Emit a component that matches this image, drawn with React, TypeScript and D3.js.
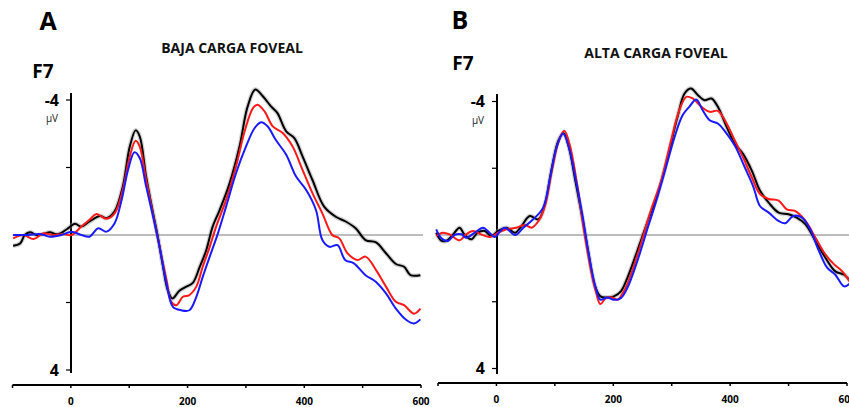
import React from "react";
import * as d3 from "d3";

type P = [number, number];

// time (ms) , amplitude (µV, negative up)
const leftBlack: P[] = [[-99,0.32],[-87,0.25],[-79,0],[-70,-0.08],[-59,0],[-47,-0.03],[-36,-0.08],[-22,-0.02],[-7,-0.17],[7,-0.33],[18,-0.25],[32,-0.4],[50,-0.56],[61,-0.5],[75,-0.7],[89,-1.44],[101,-2.62],[111,-3.1],[118,-2.92],[129,-1.73],[141,-0.64],[149,0.05],[158,0.94],[166,1.63],[174,1.88],[186,1.65],[198,1.53],[209,1.42],[221,0.94],[232,0.45],[243,-0.25],[255,-0.74],[272,-1.53],[289,-2.62],[303,-3.81],[316,-4.31],[329,-4.11],[343,-3.81],[354,-3.61],[369,-3.07],[383,-2.87],[397,-2.33],[414,-1.63],[434,-0.84],[454,-0.54],[471,-0.4],[488,-0.2],[505,0.15],[523,0.22],[540,0.54],[557,0.86],[571,0.94],[582,1.19],[599,1.19]];
const leftRed: P[] = [[-99,0.1],[-81,0],[-64,0.12],[-47,-0.05],[-30,0],[-13,-0.03],[1,0],[18,-0.25],[32,-0.45],[44,-0.62],[61,-0.48],[75,-0.64],[89,-1.34],[101,-2.33],[111,-2.79],[118,-2.62],[129,-1.63],[141,-0.59],[152,0.35],[164,1.34],[172,1.98],[181,2.08],[192,1.83],[203,1.78],[215,1.53],[226,0.94],[238,0.35],[249,-0.25],[266,-1.04],[283,-2.03],[297,-3.02],[312,-3.76],[320,-3.86],[332,-3.66],[346,-3.22],[363,-3.02],[380,-2.62],[397,-1.93],[414,-1.24],[431,-0.64],[448,0],[460,0.1],[474,0.54],[491,0.74],[505,0.64],[523,1.04],[540,1.53],[557,1.98],[571,2.08],[588,2.33],[599,2.18]];
const leftBlue: P[] = [[-99,0],[-76,0],[-53,-0.03],[-36,0.05],[-16,0],[1,-0.1],[18,0],[32,0.05],[47,-0.2],[61,-0.1],[75,-0.35],[87,-1.04],[98,-1.93],[109,-2.45],[118,-2.28],[129,-1.44],[141,-0.54],[152,0.35],[164,1.44],[175,2.13],[189,2.23],[203,2.23],[215,1.83],[226,1.24],[238,0.64],[252,-0.05],[266,-0.84],[283,-1.83],[300,-2.62],[315,-3.17],[326,-3.34],[337,-3.22],[351,-2.82],[369,-2.38],[386,-1.73],[403,-1.34],[420,-0.74],[431,0.15],[443,0.35],[457,0.3],[470,0.74],[485,0.84],[505,1.19],[523,1.39],[540,1.73],[557,2.18],[575,2.52],[588,2.62],[599,2.5]];

const rightBlack: P[] = [[-103,-0.07],[-95,0.16],[-86,0.18],[-75,0],[-63,-0.22],[-55,-0.02],[-43,0.13],[-32,-0.07],[-20,-0.12],[-9,0.03],[3,-0.12],[17,-0.22],[32,-0.07],[43,-0.27],[57,-0.57],[72,-0.47],[83,-0.92],[95,-2.03],[106,-2.83],[115,-3.05],[124,-2.63],[135,-1.63],[147,-0.52],[158,0.58],[168,1.49],[178,1.84],[190,1.87],[201,1.84],[213,1.69],[224,1.29],[241,0.48],[259,-0.42],[276,-1.23],[293,-2.33],[310,-3.54],[322,-4.24],[333,-4.39],[345,-4.19],[356,-4.04],[368,-4.09],[379,-3.84],[394,-3.24],[408,-2.73],[422,-2.43],[437,-1.93],[451,-1.33],[466,-0.97],[483,-0.67],[500,-0.62],[514,-0.52],[529,-0.32],[546,0.18],[563,0.68],[580,1.09],[595,1.19],[606,1.39]];
const rightRed: P[] = [[-103,0.03],[-92,-0.07],[-80,-0.02],[-63,0.16],[-52,-0.02],[-40,-0.12],[-26,-0.02],[-11,0.06],[3,-0.07],[17,-0.17],[34,-0.22],[49,-0.3],[60,-0.22],[72,-0.42],[83,-0.87],[95,-1.93],[106,-2.78],[116,-3.12],[125,-2.73],[138,-1.53],[149,-0.22],[161,0.99],[170,1.69],[178,2.07],[187,1.89],[198,1.87],[207,1.94],[218,1.69],[230,1.19],[247,0.28],[264,-0.72],[282,-1.63],[299,-2.83],[313,-3.74],[325,-4.14],[336,-4.09],[351,-3.84],[365,-3.69],[379,-3.72],[394,-3.34],[408,-2.83],[422,-2.33],[437,-1.73],[451,-1.23],[466,-1.08],[483,-1.03],[497,-0.77],[511,-0.72],[529,-0.42],[546,0.08],[563,0.58],[578,0.88],[592,1.09],[606,1.44]];
const rightBlue: P[] = [[-103,-0.17],[-95,0.08],[-83,0.18],[-72,0],[-60,-0.02],[-52,0.08],[-37,-0.07],[-23,-0.22],[-9,-0.02],[-3,0.06],[14,-0.22],[32,0],[46,-0.22],[63,-0.47],[80,-0.82],[92,-1.73],[103,-2.63],[114,-3.04],[124,-2.63],[135,-1.73],[147,-0.62],[158,0.58],[170,1.59],[178,1.94],[190,1.87],[201,1.94],[213,1.89],[224,1.59],[241,0.79],[259,-0.22],[270,-0.82],[287,-1.83],[305,-2.94],[319,-3.6],[330,-3.84],[342,-4.06],[353,-3.74],[365,-3.44],[379,-3.34],[394,-3.04],[408,-2.68],[425,-2.03],[440,-1.43],[451,-0.87],[466,-0.67],[483,-0.42],[494,-0.35],[508,-0.57],[523,-0.52],[537,-0.17],[552,0.48],[566,0.98],[580,1.19],[595,1.54],[606,1.44]];

const xTicks = [-100, 0, 100, 200, 300, 400, 500, 600];
const xTickLabels = [0, 200, 400, 600];
const yTicks = [-4, -2, 2, 4];
const yTickLabels = [-4, 4];
const panelLetters = ["A", "B"];
const panelTitles = ["BAJA CARGA FOVEAL", "ALTA CARGA FOVEAL"];
const electrode = "F7";
const unit = "µV";

const FONT = "'Open Sans', 'DejaVu Sans', sans-serif";

interface PanelCfg {
  letter: string;
  title: string;
  series: { data: P[]; color: string }[];
  xRange: [number, number];
  yRange: [number, number];
  axisX: number;
  xAxisY: number;
  yAxisTop: number;
  yAxisBottom: number;
  letterPos: [number, number];
  titlePos: [number, number];
  f7Pos: [number, number];
}

const panels: PanelCfg[] = [
  {
    letter: panelLetters[0],
    title: panelTitles[0],
    series: [
      { data: leftBlack, color: "#000000" },
      { data: leftRed, color: "#ff1a1a" },
      { data: leftBlue, color: "#1a1aff" },
    ],
    xRange: [12.5, 421],
    yRange: [100, 370],
    axisX: 71,
    xAxisY: 385,
    yAxisTop: 93,
    yAxisBottom: 373,
    letterPos: [48, 30],
    titlePos: [232, 53],
    f7Pos: [43, 78],
  },
  {
    letter: panelLetters[1],
    title: panelTitles[1],
    series: [
      { data: rightBlack, color: "#000000" },
      { data: rightRed, color: "#ff1a1a" },
      { data: rightBlue, color: "#1a1aff" },
    ],
    xRange: [438, 847],
    yRange: [101.5, 368.5],
    axisX: 497,
    xAxisY: 383,
    yAxisTop: 94,
    yAxisBottom: 374,
    letterPos: [460, 29],
    titlePos: [656, 58],
    f7Pos: [463, 70],
  },
];

function Panel({ p }: { p: PanelCfg }) {
  const x = d3.scaleLinear().domain([-100, 600]).range(p.xRange);
  const y = d3.scaleLinear().domain([-4, 4]).range(p.yRange);
  const line = d3
    .line<P>()
    .x((d) => x(d[0]))
    .y((d) => y(d[1]))
    .curve(d3.curveCatmullRom.alpha(0.5));
  return (
    <g>
      <text x={p.letterPos[0]} y={p.letterPos[1]} textAnchor="middle" fontFamily={FONT} fontWeight="bold" fontSize={25} fill="#000">
        {p.letter}
      </text>
      <text x={p.titlePos[0]} y={p.titlePos[1]} textAnchor="middle" fontFamily={FONT} fontWeight="bold" fontSize={14} fill="#111">
        {p.title}
      </text>
      <text x={p.f7Pos[0]} y={p.f7Pos[1]} textAnchor="middle" fontFamily={FONT} fontWeight="bold" fontSize={19} fill="#000">
        {electrode}
      </text>
      {/* zero line */}
      <line x1={x(-100)} x2={x(600) + 2} y1={y(0)} y2={y(0)} stroke="#7a7a7a" strokeWidth={1} />
      {/* y axis */}
      <line x1={p.axisX} x2={p.axisX} y1={p.yAxisTop} y2={p.yAxisBottom} stroke="#000" strokeWidth={2} />
      {yTicks.map((t) => (
        <line key={t} x1={p.axisX - 5} x2={p.axisX} y1={y(t)} y2={y(t)} stroke="#000" strokeWidth={1.2} />
      ))}
      {yTickLabels.map((t) => (
        <text key={t} x={p.axisX - 12} y={y(t) + 5.5} textAnchor="end" fontFamily={FONT} fontWeight="bold" fontSize={16} fill="#000">
          {t}
        </text>
      ))}
      <text x={p.axisX - 19} y={y(-4) + 22} textAnchor="middle" fontFamily={FONT} fontSize={10} fill="#222">
        {unit}
      </text>
      {/* x axis */}
      <line x1={x(-100)} x2={x(600)} y1={p.xAxisY} y2={p.xAxisY} stroke="#000" strokeWidth={2} />
      {xTicks.map((t) => (
        <line key={t} x1={x(t)} x2={x(t)} y1={p.xAxisY} y2={p.xAxisY + 3} stroke="#000" strokeWidth={1.5} />
      ))}
      {xTickLabels.map((t) => (
        <text key={t} x={x(t)} y={p.xAxisY + 20} textAnchor="middle" fontFamily={FONT} fontWeight="bold" fontSize={10} fill="#000">
          {t}
        </text>
      ))}
      {/* series */}
      <path d={line(p.series[0].data) || ""} fill="none" stroke="#999" strokeOpacity={0.45} strokeWidth={4.5} />
      {p.series.map((s, i) => (
        <path key={i} d={line(s.data) || ""} fill="none" stroke={s.color} strokeWidth={2} strokeLinejoin="round" />
      ))}
    </g>
  );
}

export default function App() {
  return (
    <svg
      width={849}
      height={407}
      style={{ position: "absolute", left: 0, top: 0, background: "#fff" }}
    >
      <rect width={849} height={407} fill="#fff" />
      {panels.map((p, i) => (
        <Panel key={i} p={p} />
      ))}
    </svg>
  );
}
